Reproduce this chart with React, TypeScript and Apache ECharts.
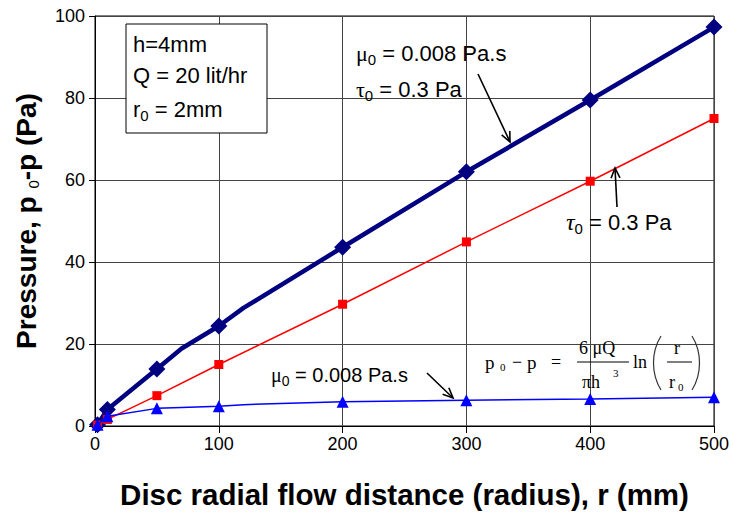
import React, { useEffect, useRef } from 'react';
import * as echarts from 'echarts';

// Marker positions (radius, mm) and pressures (Pa)
const radiusMm = [2, 10, 50, 100, 200, 300, 400, 500];
const pressureMuTau = [0.3, 4.0, 13.9, 24.4, 43.6, 62.0, 79.5, 97.3];
const pressureTau = [0.2, 1.6, 7.4, 15.0, 29.7, 44.9, 59.7, 75.0];
const pressureMu = [0.3, 2.4, 4.3, 4.8, 5.9, 6.3, 6.6, 7.0];
// Extra curve points without markers
const muTauCurveR = [70, 120];
const muTauCurveP = [18.9, 28.8];
const muCurveR = [70, 120, 150];
const muCurveP = [4.5, 5.2, 5.5];

const SANS = '"Liberation Sans", Arial, sans-serif';
const SERIF = '"Liberation Serif", "Times New Roman", serif';

function buildData(r: number[], p: number[], er: number[], ep: number[]) {
  const pts: any[] = r.map((x, i) => ({ value: [x, p[i]] }));
  er.forEach((x, i) => pts.push({ value: [x, ep[i]], symbol: 'none' }));
  pts.sort((a, b) => a.value[0] - b.value[0]);
  return pts;
}

function arrow(x1: number, y1: number, x2: number, y2: number, head = 11, ang = 24) {
  const dx = x1 - x2, dy = y1 - y2;
  const L = Math.hypot(dx, dy);
  const bx = dx / L, by = dy / L;
  const a = (ang * Math.PI) / 180;
  const c = Math.cos(a), s = Math.sin(a);
  const p1 = [x2 + head * (bx * c - by * s), y2 + head * (bx * s + by * c)];
  const p2 = [x2 + head * (bx * c + by * s), y2 + head * (-bx * s + by * c)];
  return [
    { type: 'line', z: 100, shape: { x1, y1, x2, y2 }, style: { stroke: '#000', lineWidth: 1.6 } },
    { type: 'polyline', z: 100, shape: { points: [p1, [x2, y2], p2] }, style: { stroke: '#000', lineWidth: 1.6, fill: null } },
  ];
}

function rt(x: number, y: number, text: string, rich: any, extra: any = {}) {
  return {
    type: 'text', x, y, z: 100,
    style: { text, rich, verticalAlign: 'middle', align: 'left', fill: '#000', ...extra },
  };
}

function txt(x: number, y: number, text: string, size: number, family = SANS, extra: any = {}) {
  return {
    type: 'text', x, y, z: 100,
    style: { text, fontSize: size, fontFamily: family, fill: '#000', verticalAlign: 'middle', align: 'left', ...extra },
  };
}

const richSans = (size: number) => ({
  a: { fontSize: size, fontFamily: SANS },
  g: { fontSize: size, fontFamily: SERIF },
  gi: { fontSize: size + 2, fontFamily: SERIF, fontStyle: 'italic' },
  s: { fontSize: Math.round(size * 0.7), fontFamily: SANS, padding: [Math.round(size * 0.55), 0, 0, 0] },
});

export default function App() {
  const ref = useRef<HTMLDivElement>(null);
  useEffect(() => {
    const chart = echarts.init(ref.current!, null, { renderer: 'svg' });
    const option: any = {
      animation: false,
      backgroundColor: '#fff',
      grid: { left: 95, right: 19, top: 16, bottom: 89, show: true, borderColor: '#000', borderWidth: 1 },
      xAxis: {
        type: 'value', min: 0, max: 500, interval: 100,
        name: 'Disc radial flow distance (radius), r (mm)',
        nameLocation: 'middle', nameGap: 53,
        nameTextStyle: { fontSize: 29.5, fontWeight: 'bold', fontFamily: SANS, color: '#000' },
        axisLine: { lineStyle: { color: '#000', width: 1 } },
        axisTick: { show: true, length: 7, lineStyle: { color: '#000' } },
        axisLabel: { fontSize: 18, fontFamily: SANS, color: '#000', margin: 9 },
        splitLine: { show: true, lineStyle: { color: '#444', width: 1 } },
      },
      yAxis: {
        type: 'value', min: 0, max: 100, interval: 20,
        name: 'Pressure, p {s|0}-p (Pa)',
        nameLocation: 'middle', nameGap: 54, nameRotate: 90,
        nameTextStyle: {
          fontSize: 28, fontWeight: 'bold', fontFamily: SANS, color: '#000',
          rich: { s: { fontSize: 15, fontFamily: SANS, color: '#000', fontWeight: 'normal', padding: [14, 0, 0, 0] } },
        },
        axisLine: { show: true, lineStyle: { color: '#000', width: 1 } },
        axisTick: { show: true, length: 6, lineStyle: { color: '#000' } },
        axisLabel: { fontSize: 18, fontFamily: SANS, color: '#000', margin: 10 },
        splitLine: { show: true, lineStyle: { color: '#444', width: 1 } },
      },
      series: [
        {
          type: 'line', name: 'mu & tau',
          data: buildData(radiusMm, pressureMuTau, muTauCurveR, muTauCurveP),
          symbol: 'diamond', symbolSize: 17, showAllSymbol: true,
          lineStyle: { color: '#000080', width: 4.5 },
          itemStyle: { color: '#000080' },
          z: 2,
        },
        {
          type: 'line', name: 'tau',
          data: buildData(radiusMm, pressureTau, [], []),
          symbol: 'rect', symbolSize: 9, showAllSymbol: true,
          lineStyle: { color: '#ff0000', width: 1.5 },
          itemStyle: { color: '#ff0000' },
          z: 3,
        },
        {
          type: 'line', name: 'mu',
          data: buildData(radiusMm, pressureMu, muCurveR, muCurveP),
          symbol: 'triangle', symbolSize: 12, showAllSymbol: true,
          lineStyle: { color: '#0000ff', width: 1.5 },
          itemStyle: { color: '#0000ff' },
          z: 4,
        },
      ],
      graphic: [
        { type: 'rect', z: 99, shape: { x: 126, y: 24, width: 141, height: 109 }, style: { fill: '#fff', stroke: '#000', lineWidth: 1 } },
        txt(133, 44, 'h=4mm', 22),
        txt(133, 75, 'Q = 20 lit/hr', 22),
        rt(133, 109, '{a|r}{s|0}{a| = 2mm}', richSans(22)),
        rt(356, 53, '{g|μ}{s|0}{a| = 0.008 Pa.s}', richSans(22)),
        rt(356, 89, '{g|τ}{s|0}{a| = 0.3 Pa}', richSans(22)),
        ...arrow(478, 74, 510, 142),
        rt(566, 222, '{gi|τ}{s|0}{a| = 0.3 Pa}', richSans(22)),
        ...arrow(617, 207, 615, 168),
        rt(271, 375, '{g|μ}{s|0}{a| = 0.008 Pa.s}', richSans(20)),
        ...arrow(427, 373, 453, 398),
        // formula
        txt(485, 362, 'p', 19, SERIF),
        txt(500, 367, '0', 11, SERIF),
        txt(512, 362, '−', 18, SERIF),
        txt(527, 362, 'p', 19, SERIF),
        txt(551, 362, '=', 18, SERIF),
        txt(579, 348, '6 μQ', 18, SERIF),
        { type: 'line', z: 100, shape: { x1: 577, y1: 362, x2: 629, y2: 362 }, style: { stroke: '#000', lineWidth: 1 } },
        txt(582, 382, 'πh', 18, SERIF),
        txt(613, 373, '3', 11, SERIF),
        txt(633, 362, 'ln', 18, SERIF),
        { type: 'bezierCurve', z: 100, shape: { x1: 661, y1: 336, cpx1: 651, cpy1: 352, cpx2: 651, cpy2: 374, x2: 661, y2: 390 }, style: { stroke: '#333', lineWidth: 1.2, fill: null } },
        { type: 'bezierCurve', z: 100, shape: { x1: 692, y1: 336, cpx1: 702, cpy1: 352, cpx2: 702, cpy2: 374, x2: 692, y2: 390 }, style: { stroke: '#333', lineWidth: 1.2, fill: null } },
        txt(674, 348, 'r', 18, SERIF),
        { type: 'line', z: 100, shape: { x1: 667, y1: 362, x2: 692, y2: 362 }, style: { stroke: '#000', lineWidth: 1 } },
        txt(669, 382, 'r', 18, SERIF),
        txt(678, 387, '0', 11, SERIF),
      ],
    };
    chart.setOption(option);
    return () => chart.dispose();
  }, []);
  return <div ref={ref} style={{ position: 'absolute', left: 0, top: 0, width: 733, height: 515 }} />;
}
